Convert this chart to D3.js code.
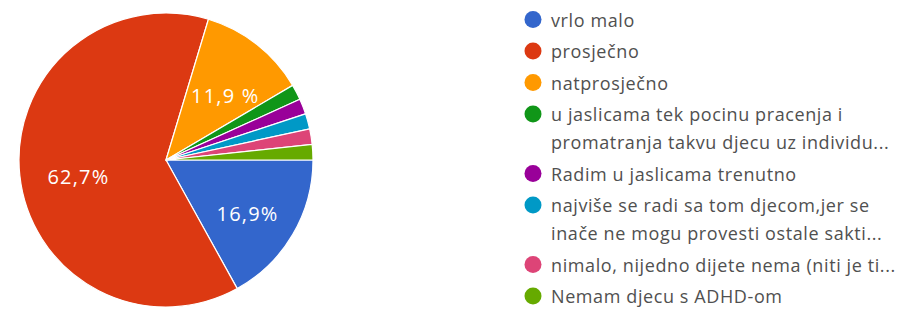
<!DOCTYPE html>
<html>
<head>
<meta charset="utf-8">
<script src="https://cdn.jsdelivr.net/npm/d3@7"></script>
<style>
  html, body { margin: 0; padding: 0; background: #ffffff; }
  svg { display: block; }
</style>
</head>
<body>
<svg id="chart" width="899" height="311"></svg>
<script>
// ---- data ----
const categories = [
  "vrlo malo",
  "prosječno",
  "natprosječno",
  "u jaslicama tek pocinu pracenja i promatranja takvu djecu uz individu...",
  "Radim u jaslicama trenutno",
  "najviše se radi sa tom djecom,jer se inače ne mogu provesti ostale sakti...",
  "nimalo, nijedno dijete nema (niti je ti...",
  "Nemam djecu s ADHD-om"
];
const legendLines = [
  ["vrlo malo"],
  ["prosječno"],
  ["natprosječno"],
  ["u jaslicama tek pocinu pracenja i", "promatranja takvu djecu uz individu..."],
  ["Radim u jaslicama trenutno"],
  ["najviše se radi sa tom djecom,jer se", "inače ne mogu provesti ostale sakti..."],
  ["nimalo, nijedno dijete nema (niti je ti..."],
  ["Nemam djecu s ADHD-om"]
];
const counts = [10, 37, 7, 1, 1, 1, 1, 1];
const sliceLabels = ["16,9%", "62,7%", "11,9 %", "", "", "", "", ""];
const colors = ["#3366cc", "#dc3912", "#ff9900", "#109618", "#990099", "#0099c6", "#dd4477", "#66aa00"];

// ---- layout ----
const svg = d3.select("#chart");
const cx = 166, cy = 160, r = 147;
const fontFamily = "'Open Sans', 'Noto Sans', Arial, sans-serif";

const color = d3.scaleOrdinal().domain(categories).range(colors);

const pie = d3.pie()
  .value((d, i) => counts[i])
  .sort(null)
  .startAngle(Math.PI / 2)
  .endAngle(Math.PI / 2 + 2 * Math.PI);

const arcs = pie(categories);
const arc = d3.arc().innerRadius(0).outerRadius(r);
const labelArc = d3.arc().innerRadius(r * 0.62).outerRadius(r * 0.62);

const g = svg.append("g").attr("transform", `translate(${cx},${cy})`);

g.selectAll("path.slice")
  .data(arcs)
  .join("path")
  .attr("class", "slice")
  .attr("d", arc)
  .attr("fill", d => color(d.data))
  .attr("stroke", "#ffffff")
  .attr("stroke-width", 1.2);

g.selectAll("text.lbl")
  .data(arcs)
  .join("text")
  .attr("class", "lbl")
  .attr("transform", d => {
    const [x, y] = labelArc.centroid(d);
    return `translate(${x + 3},${y + 7})`;
  })
  .attr("text-anchor", "middle")
  .attr("dominant-baseline", "central")
  .attr("font-family", fontFamily)
  .attr("font-size", 20)
  .attr("letter-spacing", 1.2)
  .attr("fill", "#ffffff")
  .text((d, i) => sliceLabels[i]);

// ---- legend ----
const legend = svg.append("g");
const lx = 533, textX = 551;
const itemStep = 31.5, lineStep = 28;
let y = 19.5;
categories.forEach((c, i) => {
  const item = legend.append("g");
  item.append("circle")
    .attr("cx", lx).attr("cy", y).attr("r", 8.5)
    .attr("fill", color(c));
  legendLines[i].forEach((line, j) => {
    item.append("text")
      .attr("x", textX)
      .attr("y", y + j * lineStep)
      .attr("dominant-baseline", "central")
      .attr("font-family", fontFamily)
      .attr("font-size", 18)
      .attr("letter-spacing", 0.6)
      .attr("fill", "#505050")
      .text(line);
  });
  y += itemStep + (legendLines[i].length - 1) * lineStep;
});
</script>
</body>
</html>
